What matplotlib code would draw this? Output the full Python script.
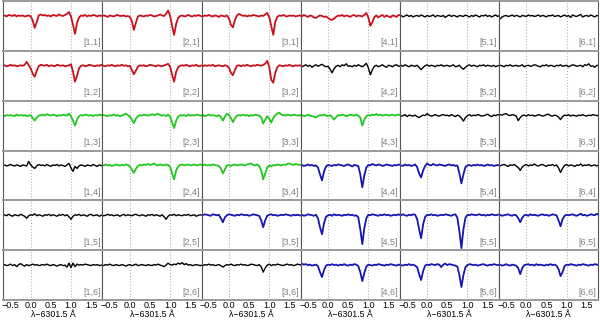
#imports
import numpy as np
import matplotlib
matplotlib.use("Agg")
import matplotlib.pyplot as plt

#wavelength grid (lambda - 6301.5 A), step 0.05
wav = np.round(np.arange(-0.70, 1.801, 0.05), 2)

#intensities in % of continuum [column,row]
p11 = [100, 101, 99, 102, 101, 100, 102, 99, 101, 100,
       101, 99, 100, 101, 99, 91, 76, 88, 101, 103,
       101, 102, 100, 101, 99, 102, 101, 100, 103, 101,
       100, 102, 104, 108, 99, 82, 64, 86, 97, 101,
       100, 102, 99, 101, 100, 102, 101, 99, 101, 100, 101]
p21 = [99, 101, 100, 98, 101, 100, 99, 101, 102, 100,
       100, 101, 99, 100, 98, 90, 72, 86, 99, 101,
       100, 99, 101, 100, 102, 101, 99, 100, 101, 103,
       101, 100, 104, 111, 100, 80, 62, 84, 96, 100,
       101, 99, 100, 102, 100, 99, 101, 100, 102, 100, 99]
p31 = [100, 99, 101, 100, 102, 100, 99, 101, 100, 98,
       101, 100, 99, 101, 95, 82, 77, 92, 101, 104,
       102, 100, 101, 99, 101, 100, 102, 101, 100, 99,
       101, 100, 103, 106, 98, 80, 62, 88, 98, 101,
       100, 102, 100, 99, 101, 100, 101, 99, 100, 101, 100]
p41 = [101, 99, 102, 100, 98, 101, 100, 97, 96, 99,
       101, 100, 98, 99, 96, 93, 92, 95, 98, 101,
       100, 102, 99, 101, 100, 98, 101, 102, 99, 101,
       100, 99, 102, 106, 97, 80, 88, 98, 101, 97,
       100, 102, 98, 101, 99, 97, 101, 100, 98, 102, 101]
p51 = [99, 101, 98, 100, 102, 99, 101, 98, 100, 101,
       99, 102, 100, 98, 101, 99, 100, 102, 98, 101,
       100, 99, 101, 97, 100, 102, 99, 101, 100, 98,
       101, 100, 99, 102, 100, 98, 101, 99, 102, 100,
       98, 101, 100, 102, 99, 101, 98, 100, 102, 99, 101]
p61 = [96, 94, 98, 100, 101, 99, 100, 102, 99, 101,
       100, 98, 101, 100, 99, 102, 100, 101, 99, 100,
       102, 99, 101, 100, 98, 101, 100, 102, 99, 100,
       101, 98, 100, 102, 99, 101, 97, 102, 100, 99,
       101, 103, 98, 100, 101, 99, 102, 100, 98, 101, 100]

p12 = [100, 101, 99, 100, 102, 100, 101, 99, 100, 101,
       100, 102, 108, 101, 95, 84, 78, 90, 99, 102,
       101, 100, 102, 99, 101, 100, 99, 102, 101, 100,
       101, 99, 100, 101, 103, 88, 68, 80, 95, 100,
       101, 99, 100, 102, 101, 100, 99, 101, 100, 102, 100]
p22 = [101, 100, 99, 101, 100, 102, 100, 99, 101, 100,
       102, 100, 101, 99, 100, 92, 83, 90, 98, 101,
       100, 101, 99, 100, 102, 101, 100, 99, 101, 100,
       99, 101, 102, 104, 98, 82, 68, 88, 97, 100,
       101, 100, 102, 100, 99, 101, 100, 102, 99, 100, 101]
p32 = [100, 99, 101, 100, 101, 100, 102, 99, 100, 101,
       100, 99, 101, 100, 96, 86, 81, 92, 100, 101,
       99, 101, 100, 102, 100, 99, 101, 100, 102, 101,
       100, 102, 104, 110, 98, 72, 66, 86, 97, 101,
       100, 99, 101, 100, 102, 100, 99, 101, 100, 101, 100]
p42 = [101, 98, 100, 102, 99, 101, 97, 100, 102, 99,
       101, 103, 100, 98, 99, 93, 86, 94, 99, 101,
       98, 102, 100, 104, 99, 100, 98, 101, 99, 102,
       100, 98, 101, 105, 96, 82, 92, 99, 101, 98,
       100, 102, 99, 97, 101, 100, 98, 101, 102, 99, 100]
p52 = [100, 101, 99, 102, 100, 98, 101, 100, 99, 101,
       97, 92, 97, 100, 102, 99, 101, 100, 98, 101,
       100, 102, 99, 100, 101, 99, 100, 102, 98, 99,
       101, 96, 93, 97, 100, 102, 99, 101, 100, 98,
       101, 100, 102, 99, 101, 100, 99, 101, 98, 100, 101]
p62 = [99, 101, 100, 98, 101, 100, 102, 99, 100, 101,
       99, 100, 102, 98, 100, 101, 99, 100, 102, 101,
       99, 98, 101, 100, 102, 99, 101, 100, 98, 101,
       100, 102, 99, 100, 101, 98, 100, 102, 101, 99,
       100, 101, 98, 102, 101, 104, 99, 100, 97, 101, 100]

p13 = [100, 99, 101, 100, 101, 100, 99, 102, 100, 101,
       100, 101, 99, 100, 101, 95, 90, 96, 100, 101,
       102, 100, 103, 101, 100, 102, 101, 99, 101, 100,
       102, 101, 100, 104, 99, 90, 80, 92, 99, 101,
       100, 102, 101, 100, 101, 99, 101, 100, 102, 101, 100]
p23 = [100, 101, 100, 99, 101, 100, 102, 100, 101, 99,
       100, 102, 104, 101, 98, 92, 85, 94, 99, 101,
       100, 102, 101, 100, 101, 103, 101, 102, 104, 101,
       100, 101, 99, 102, 98, 86, 75, 90, 98, 101,
       100, 101, 99, 102, 100, 101, 100, 102, 101, 100, 101]
p33 = [100, 101, 99, 100, 102, 100, 101, 100, 99, 101,
       97, 90, 98, 104, 101, 95, 87, 95, 100, 101,
       100, 102, 100, 101, 99, 101, 100, 102, 101, 100,
       97, 84, 92, 99, 94, 86, 95, 101, 104, 106,
       102, 101, 100, 102, 101, 100, 102, 101, 100, 101, 100]
p43 = [100, 101, 99, 100, 102, 100, 99, 98, 96, 99,
       101, 100, 102, 100, 99, 101, 97, 92, 97, 101,
       100, 102, 101, 99, 100, 102, 101, 100, 102, 100,
       96, 80, 92, 99, 101, 100, 102, 101, 103, 101,
       102, 100, 101, 102, 100, 101, 102, 100, 101, 102, 101]
p53 = [101, 99, 100, 102, 98, 101, 100, 99, 101, 98,
       96, 99, 101, 100, 104, 101, 99, 100, 102, 100,
       99, 101, 102, 100, 101, 99, 102, 100, 98, 101,
       99, 95, 89, 96, 100, 102, 99, 101, 100, 102,
       101, 99, 100, 101, 103, 100, 98, 101, 100, 102, 101]
p63 = [100, 102, 101, 103, 104, 101, 100, 102, 101, 99,
       90, 96, 100, 101, 99, 102, 100, 101, 99, 100,
       102, 101, 99, 100, 102, 103, 100, 99, 101, 100,
       97, 92, 98, 101, 100, 102, 99, 101, 100, 99,
       101, 100, 102, 100, 99, 101, 100, 102, 101, 100, 101]

p14 = [100, 101, 99, 100, 102, 100, 99, 101, 100, 98,
       101, 100, 99, 108, 101, 97, 94, 99, 102, 100,
       101, 99, 102, 100, 98, 101, 100, 102, 99, 101,
       100, 98, 101, 104, 95, 88, 98, 94, 99, 101,
       100, 98, 101, 100, 99, 102, 100, 98, 101, 100, 99]
p24 = [101, 100, 102, 100, 101, 99, 100, 102, 101, 100,
       101, 100, 102, 101, 98, 92, 85, 93, 99, 101,
       100, 102, 101, 103, 101, 102, 104, 101, 100, 102,
       101, 100, 102, 101, 97, 84, 72, 90, 98, 101,
       102, 100, 101, 102, 100, 101, 102, 100, 101, 102, 101]
p34 = [101, 100, 102, 100, 101, 100, 102, 101, 100, 99,
       94, 84, 92, 100, 101, 99, 101, 102, 100, 101,
       102, 101, 100, 102, 103, 104, 101, 100, 102, 99,
       90, 72, 84, 96, 100, 98, 101, 100, 102, 101,
       100, 102, 101, 103, 104, 102, 101, 103, 102, 101, 102]
p44 = [100, 101, 99, 100, 102, 100, 101, 99, 100, 96,
       82, 70, 88, 98, 101, 100, 99, 101, 100, 102,
       101, 100, 99, 101, 102, 100, 98, 101, 100, 99,
       82, 56, 80, 96, 101, 100, 103, 101, 100, 102,
       101, 99, 100, 102, 101, 100, 99, 101, 100, 102, 101]
p54 = [101, 100, 99, 102, 100, 101, 99, 100, 102, 97,
       84, 76, 90, 99, 104, 101, 100, 103, 101, 100,
       102, 101, 100, 99, 101, 102, 100, 101, 99, 100,
       84, 64, 82, 97, 100, 101, 99, 101, 100, 102,
       100, 101, 99, 100, 102, 100, 101, 99, 100, 101, 100]
p64 = [100, 99, 101, 102, 100, 98, 101, 100, 102, 99,
       96, 90, 97, 100, 102, 99, 101, 100, 103, 100,
       99, 101, 102, 100, 98, 101, 100, 102, 99, 101,
       95, 86, 94, 100, 102, 99, 101, 100, 98, 101,
       100, 103, 99, 101, 100, 102, 99, 100, 101, 99, 101]

p15 = [100, 101, 99, 102, 100, 98, 101, 100, 99, 102,
       100, 98, 94, 99, 101, 100, 103, 99, 101, 100,
       98, 101, 100, 102, 99, 101, 100, 98, 101, 100,
       102, 99, 101, 97, 92, 98, 101, 100, 102, 99,
       101, 100, 98, 101, 102, 99, 100, 101, 98, 100, 101]
p25 = [101, 99, 100, 102, 100, 101, 99, 100, 101, 98,
       100, 102, 99, 101, 100, 99, 101, 102, 100, 99,
       101, 100, 98, 101, 100, 102, 99, 101, 100, 98,
       101, 97, 92, 98, 101, 100, 102, 99, 101, 100,
       99, 101, 100, 102, 99, 100, 101, 98, 100, 101, 100]
p35 = [101, 100, 102, 101, 100, 99, 102, 101, 100, 101,
       94, 86, 96, 100, 102, 101, 100, 99, 101, 100,
       102, 101, 100, 101, 99, 100, 102, 101, 100, 99,
       90, 76, 90, 99, 101, 102, 100, 101, 99, 100,
       101, 100, 102, 101, 100, 99, 101, 100, 101, 100, 99]
p45 = [100, 101, 99, 100, 102, 101, 100, 99, 101, 94,
       76, 62, 84, 97, 100, 101, 99, 102, 100, 101,
       100, 99, 101, 100, 102, 100, 101, 99, 100, 96,
       72, 42, 74, 94, 101, 100, 102, 101, 100, 99,
       101, 100, 102, 100, 101, 99, 100, 101, 100, 102, 100]
p55 = [101, 100, 102, 100, 99, 101, 100, 102, 101, 93,
       72, 54, 82, 97, 101, 100, 102, 100, 101, 99,
       100, 101, 100, 102, 101, 100, 99, 101, 102, 95,
       68, 34, 72, 95, 101, 100, 102, 101, 100, 101,
       102, 100, 101, 99, 101, 100, 102, 101, 100, 101, 102]
p65 = [100, 101, 99, 100, 101, 102, 100, 99, 101, 100,
       94, 86, 95, 100, 101, 99, 102, 100, 101, 100,
       99, 101, 102, 100, 101, 99, 100, 102, 101, 100,
       90, 78, 92, 99, 101, 100, 101, 102, 100, 99,
       101, 103, 100, 101, 99, 100, 102, 101, 100, 103, 101]

p16 = [100, 101, 99, 100, 102, 99, 101, 97, 101, 103,
       100, 98, 101, 99, 100, 102, 100, 101, 99, 100,
       101, 100, 102, 100, 99, 101, 100, 98, 100, 101,
       99, 100, 96, 104, 95, 104, 97, 102, 100, 101,
       100, 102, 101, 100, 99, 101, 100, 101, 99, 100, 101]
p26 = [100, 99, 101, 100, 102, 100, 99, 101, 100, 99,
       101, 100, 98, 100, 101, 99, 100, 102, 99, 100,
       101, 100, 99, 101, 100, 99, 101, 100, 102, 100,
       99, 97, 100, 104, 101, 100, 102, 101, 104, 102,
       105, 101, 103, 100, 101, 99, 100, 101, 100, 99, 100]
p36 = [100, 99, 101, 100, 102, 100, 101, 99, 100, 101,
       99, 96, 99, 101, 100, 102, 100, 99, 101, 100,
       102, 100, 101, 99, 100, 102, 101, 100, 99, 101,
       97, 86, 94, 100, 102, 99, 101, 100, 102, 101,
       100, 99, 101, 102, 100, 101, 99, 100, 102, 101, 100]
p46 = [104, 103, 101, 102, 100, 101, 99, 100, 101, 98,
       86, 76, 90, 99, 101, 100, 102, 100, 101, 99,
       101, 100, 102, 100, 99, 101, 100, 102, 101, 98,
       86, 68, 84, 97, 101, 100, 99, 101, 100, 102,
       101, 100, 99, 101, 100, 102, 101, 100, 99, 101, 100]
p56 = [101, 100, 99, 101, 100, 102, 100, 101, 99, 96,
       82, 70, 88, 99, 101, 100, 102, 101, 100, 102,
       101, 96, 101, 103, 100, 102, 101, 100, 99, 97,
       80, 56, 80, 96, 100, 102, 101, 100, 101, 99,
       100, 101, 102, 100, 99, 101, 100, 102, 101, 100, 101]
p66 = [100, 101, 99, 100, 102, 100, 99, 101, 100, 99,
       94, 82, 94, 100, 101, 102, 100, 101, 99, 102,
       100, 101, 100, 99, 101, 100, 102, 100, 101, 99,
       92, 78, 86, 98, 101, 100, 102, 101, 100, 99,
       101, 100, 102, 101, 100, 99, 101, 100, 102, 101, 100]

#panels by row (top to bottom), columns left to right
rows = [[p11, p21, p31, p41, p51, p61],
        [p12, p22, p32, p42, p52, p62],
        [p13, p23, p33, p43, p53, p63],
        [p14, p24, p34, p44, p54, p64],
        [p15, p25, p35, p45, p55, p65],
        [p16, p26, p36, p46, p56, p66]]

#colour class of each panel: r = red, g = green, b = blue, k = black
classes = ["rrrrkk",
           "rrrkkk",
           "ggggkk",
           "kggbbk",
           "kkbbbb",
           "kkkbbb"]

cores = [0.0, 1.0]
ticks = [-0.5, 0.0, 0.5, 1.0, 1.5]
xlabel = "λ−6301.5 Å"

cols = {"r": "#c8121e", "g": "#22c822", "b": "#1616b0", "k": "black"}

plt.rcParams["font.family"] = ["Liberation Sans", "DejaVu Sans"]

fig, axes = plt.subplots(6, 6, figsize=(6, 3.2), dpi=100, sharex=True, sharey=True)
fig.subplots_adjust(left=3.3/600, right=598/600, top=1-1/320, bottom=1-300/320,
                    wspace=0, hspace=0)

for j in range(6):
    for i in range(6):
        ax = axes[j][i]
        c = classes[j][i]
        for x0 in cores:
            ax.axvline(x0, color="#b0b0b0", ls=":", lw=0.8, zorder=1)
        ax.plot(wav, np.array(rows[j][i]), color=cols[c],
                lw=1.0 if c == "k" else 1.3, zorder=2)
        ax.text(0.985, 0.07, "[%d,%d]" % (i+1, j+1), transform=ax.transAxes,
                ha="right", va="bottom", fontsize=6.5, color="#808080")
        ax.set_xlim(-0.68, 1.78)
        ax.set_ylim(30, 130)
        ax.set_yticks([])
        ax.set_xticks(ticks)
        ax.tick_params(axis="x", length=0, pad=1.0, labelsize=6.5)
        for s in ["top", "bottom"]:
            ax.spines[s].set_color("#9a9a9a")
            ax.spines[s].set_linewidth(1.4)
        for s in ["left", "right"]:
            ax.spines[s].set_color("#555555")
            ax.spines[s].set_linewidth(0.8)
    axes[5][j].set_xticklabels(["−0.5", "0.0", "0.5", "1.0", "1.5"])

for i in range(6):
    axes[5][i].set_xlabel(xlabel, fontsize=6.3, labelpad=0)

plt.savefig("out.png", dpi=100)
